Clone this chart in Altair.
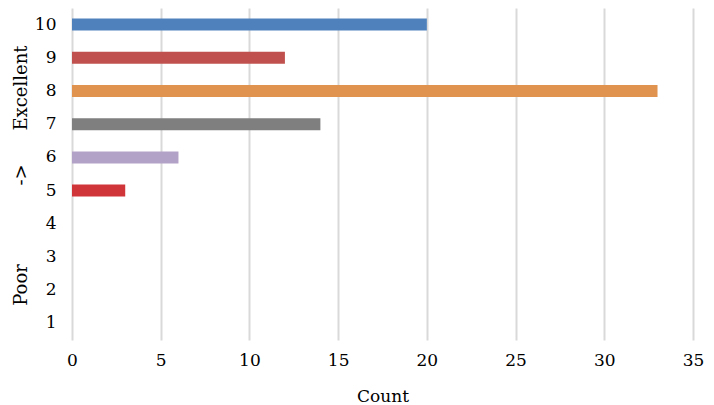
import altair as alt
import pandas as pd

ratings = ["10", "9", "8", "7", "6", "5", "4", "3", "2", "1"]
counts = [20, 12, 33, 14, 6, 3, 0, 0, 0, 0]
colors = ["#4f81bd", "#c0504d", "#e0924f", "#7f7f7f", "#b3a2c7", "#d0353a",
          "#4f81bd", "#4f81bd", "#4f81bd", "#4f81bd"]

df = pd.DataFrame({"Rating": ratings, "Count": counts, "Color": colors})

FONT = "DejaVu Serif"

bars = alt.Chart(df).mark_bar(size=12).encode(
    x=alt.X("Count:Q", scale=alt.Scale(domain=[0, 35]),
            axis=alt.Axis(title="Count", values=list(range(0, 36, 5)),
                          grid=True, gridColor="#d9d9d9", gridWidth=2,
                          domain=False, ticks=False, labelPadding=12,
                          labelFlush=False, titlePadding=20)),
    y=alt.Y("Rating:N", sort=ratings,
            axis=alt.Axis(title=None, domain=False, ticks=False,
                          labelPadding=16, grid=False)),
    color=alt.Color("Color:N", scale=None),
)

# split y-axis title: Poor -> Excellent
side_labels = pd.DataFrame({"txt": ["Excellent", "->", "Poor"],
                            "ypos": [80, 167, 277]})
side = alt.Chart(side_labels).mark_text(
    angle=270, font=FONT, fontSize=18, color="#000000", align="center",
    baseline="middle"
).encode(
    text="txt:N",
    x=alt.value(-50),
    y=alt.Y("ypos:Q", scale=alt.Scale(domain=[0, 332], range=[0, 332]), axis=None),
)

chart = alt.layer(bars, side).resolve_scale(y="independent").properties(
    width=621, height=332,
    autosize=alt.AutoSizeParams(type="none"),
    padding={"left": 64, "top": 0, "right": 13, "bottom": 65},
).configure_view(stroke=None).configure_axis(
    labelFont=FONT, titleFont=FONT, labelFontSize=17, titleFontSize=17,
    labelColor="#000000", titleColor="#000000", titleFontWeight="normal"
)

chart.save("out.html", embed_options={"renderer": "svg", "actions": False})
